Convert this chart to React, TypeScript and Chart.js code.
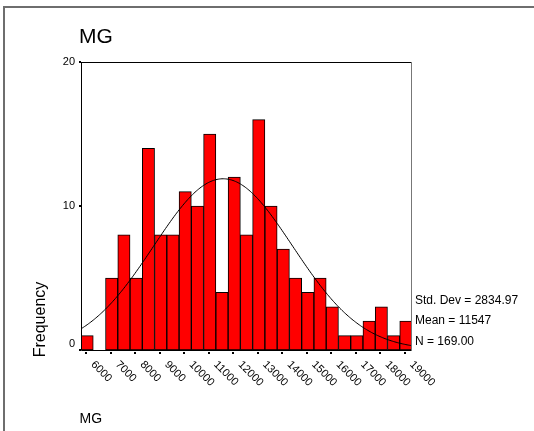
import React, { useEffect, useRef } from 'react';
import { Chart, registerables } from 'chart.js';

Chart.register(...registerables);

// ---- data ----
const binCenters = [6000, 6500, 7000, 7500, 8000, 8500, 9000, 9500, 10000, 10500, 11000, 11500, 12000, 12500, 13000, 13500, 14000, 14500, 15000, 15500, 16000, 16500, 17000, 17500, 18000, 18500, 19000];
const frequencies = [1, 0, 5, 8, 5, 14, 8, 8, 11, 10, 15, 4, 12, 8, 16, 10, 7, 5, 4, 5, 3, 1, 1, 2, 3, 1, 2];
const xTickValues = [6000, 7000, 8000, 9000, 10000, 11000, 12000, 13000, 14000, 15000, 16000, 17000, 18000, 19000];
const xTickLabels = ['6000', '7000', '8000', '9000', '10000', '11000', '12000', '13000', '14000', '15000', '16000', '17000', '18000', '19000'];
const yTickValues = [0, 10, 20];
const yTickLabels = ['0', '10', '20'];
const chartTitle = 'MG';
const xAxisTitle = 'MG';
const yAxisTitle = 'Frequency';
const statLabels = ['Std. Dev = 2834.97', 'Mean = 11547', 'N = 169.00'];
const meanValue = 11547;
const stdDevValue = 2834.97;
const countN = 169;
const binWidth = 500;
const xMin = 5750;
const xMax = 19250;
const yMax = 20;

// fitted normal curve (derived from the stated mean / std. dev / N)
const curveXs: number[] = [];
for (let x = xMin; x <= xMax; x += 50) curveXs.push(x);
const curvePoints = curveXs.map((x) => {
  const z = (x - meanValue) / stdDevValue;
  return { x, y: (countN * binWidth) / (stdDevValue * Math.sqrt(2 * Math.PI)) * Math.exp(-0.5 * z * z) };
});

const FONT = '"Liberation Sans", Arial, Helvetica, sans-serif';

const decorPlugin = {
  id: 'spssDecor',
  afterDraw(chart: any) {
    const ctx = chart.ctx as CanvasRenderingContext2D;
    const area = chart.chartArea;
    const xs = chart.scales.x;
    const ys = chart.scales.y;
    ctx.save();

    // outer frame (left + top)
    ctx.fillStyle = '#6e6e6e';
    ctx.fillRect(3, 6, 2, 431 - 6);
    ctx.fillRect(3, 6, 534 - 3, 2);

    // plot frame
    ctx.lineWidth = 1;
    ctx.strokeStyle = '#000';
    ctx.beginPath();
    ctx.moveTo(area.left + 0.5, area.top + 0.5);
    ctx.lineTo(area.left + 0.5, area.bottom + 0.5);
    ctx.lineTo(area.right, area.bottom + 0.5);
    ctx.moveTo(area.left, area.top + 0.5);
    ctx.lineTo(area.right, area.top + 0.5);
    ctx.stroke();
    ctx.strokeStyle = '#777';
    ctx.beginPath();
    ctx.moveTo(area.right - 0.5, area.top);
    ctx.lineTo(area.right - 0.5, area.bottom + 1);
    ctx.stroke();

    // y ticks and labels
    ctx.fillStyle = '#000';
    ctx.font = `11px ${FONT}`;
    ctx.textAlign = 'right';
    ctx.textBaseline = 'middle';
    yTickValues.forEach((v, i) => {
      const py = Math.round(ys.getPixelForValue(v));
      ctx.fillRect(area.left - 2, py - 1, 2, 2);
      ctx.fillText(yTickLabels[i], area.left - 6, v === 0 ? py - 6 : py);
    });

    // x ticks and rotated labels
    ctx.textAlign = 'left';
    ctx.textBaseline = 'top';
    xTickValues.forEach((v, i) => {
      const px = xs.getPixelForValue(v);
      ctx.fillRect(Math.round(px) - 2, area.bottom + 2, 2, 2);
      ctx.save();
      ctx.translate(px + 9.5, area.bottom + 9);
      ctx.rotate(Math.PI / 4);
      ctx.fillText(xTickLabels[i], 0, 0);
      ctx.restore();
    });

    // stats
    ctx.font = `12px ${FONT}`;
    ctx.textBaseline = 'alphabetic';
    ctx.textAlign = 'left';
    const statBase = [304, 324, 345];
    statLabels.forEach((s, i) => ctx.fillText(s, area.right + 3, statBase[i]));

    // titles
    ctx.font = `21px ${FONT}`;
    ctx.fillText(chartTitle, 79, 43);
    ctx.font = `14px ${FONT}`;
    ctx.fillText(xAxisTitle, 79.5, 423);

    ctx.save();
    ctx.font = `16px ${FONT}`;
    ctx.textAlign = 'center';
    ctx.translate(45, 319.5);
    ctx.rotate(-Math.PI / 2);
    ctx.fillText(yAxisTitle, 0, 0);
    ctx.restore();

    ctx.restore();
  },
};

export default function App() {
  const canvasRef = useRef<HTMLCanvasElement | null>(null);

  useEffect(() => {
    if (!canvasRef.current) return;
    const chart = new Chart(canvasRef.current, {
      data: {
        datasets: [
          {
            type: 'bar',
            data: binCenters.map((x, i) => ({ x, y: frequencies[i] })),
            backgroundColor: '#ff0000',
            borderColor: '#000000',
            borderWidth: 1,
            borderSkipped: false,
            barPercentage: 1,
            categoryPercentage: 1,
            order: 2,
          } as any,
          {
            type: 'line',
            data: curvePoints,
            borderColor: '#000000',
            borderWidth: 1,
            pointRadius: 0,
            fill: false,
            tension: 0,
            order: 1,
          } as any,
        ],
      },
      options: {
        responsive: false,
        animation: false,
        events: [],
        layout: { padding: { left: 81, top: 62, right: 122, bottom: 81 } },
        scales: {
          x: { type: 'linear', min: xMin, max: xMax, offset: false, display: false },
          y: { type: 'linear', min: 0, max: yMax, display: false },
        },
        plugins: {
          legend: { display: false },
          tooltip: { enabled: false },
          title: { display: false },
        },
      },
      plugins: [decorPlugin],
    } as any);
    return () => chart.destroy();
  }, []);

  return (
    <div style={{ position: 'absolute', left: 0, top: 0, width: 534, height: 431, background: '#fff' }}>
      <canvas ref={canvasRef} width={534} height={431} style={{ width: 534, height: 431, display: 'block' }} />
    </div>
  );
}
